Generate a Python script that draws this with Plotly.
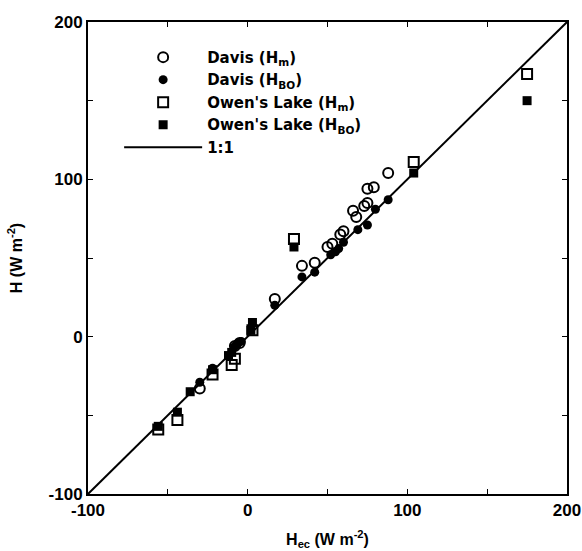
import plotly.graph_objects as go

# Davis (Hm) - open circles
davis_hm_x = [-30, -8, -5, 17, 34, 42, 50, 53, 58, 60, 66, 68, 73, 75, 75, 79, 88]
davis_hm_y = [-33, -6, -4, 24, 45, 47, 57, 59, 65, 67, 80, 76, 83, 85, 94, 95, 104]
# Davis (HBO) - filled circles
davis_bo_x = [-30, -22, -8, -6, -4, 17, 34, 42, 52, 55, 57, 60, 69, 75, 80, 88]
davis_bo_y = [-29, -20, -6, -4, -3, 20, 38, 41, 52, 54, 56, 60, 68, 71, 81, 87]
# Owen's Lake (Hm) - open squares
owens_hm_x = [-56, -44, -22, -10, -8, 3, 29, 104, 175]
owens_hm_y = [-59, -53, -24, -18, -14, 4, 62, 111, 167]
# Owen's Lake (HBO) - filled squares
owens_bo_x = [-56, -44, -36, -22, -12, -10, 3, 2, 29, 104, 175]
owens_bo_y = [-57, -48, -35, -21, -12, -10, 9, 4, 57, 104, 150]
# 1:1 line
line_x = [-100, 200]
line_y = [-100, 200]

tick_vals = [-100, -50, 0, 50, 100, 150, 200]
tick_text = ["-100", "", "0", "", "100", "", "200"]

FONT = "Liberation Sans"
LFONT = "DejaVu Sans"

fig = go.Figure()
fig.add_trace(go.Scatter(x=davis_hm_x, y=davis_hm_y, mode="markers",
                         name="<b>Davis (H<sub>m</sub>)</b>",
                         marker=dict(symbol="circle-open", size=10, color="black",
                                     line=dict(width=2, color="black"))))
fig.add_trace(go.Scatter(x=davis_bo_x, y=davis_bo_y, mode="markers",
                         name="<b>Davis (H<sub>BO</sub>)</b>",
                         marker=dict(symbol="circle", size=9, color="black")))
fig.add_trace(go.Scatter(x=owens_hm_x, y=owens_hm_y, mode="markers",
                         name="<b>Owen's Lake (H<sub>m</sub>)</b>",
                         marker=dict(symbol="square-open", size=10, color="black",
                                     line=dict(width=2, color="black"))))
fig.add_trace(go.Scatter(x=owens_bo_x, y=owens_bo_y, mode="markers",
                         name="<b>Owen's Lake (H<sub>BO</sub>)</b>",
                         marker=dict(symbol="square", size=9, color="black")))
fig.add_trace(go.Scatter(x=line_x, y=line_y, mode="lines",
                         name="<b>1:1</b>",
                         line=dict(color="black", width=2)))

axis_common = dict(
    tickvals=tick_vals, ticktext=tick_text,
    ticks="inside", ticklen=5, tickwidth=1, tickcolor="black",
    showline=True, linecolor="black", linewidth=2, mirror="ticks",
    showgrid=False, zeroline=False, automargin=False,
    tickfont=dict(family=FONT, size=17, color="black", weight="bold"),
)

fig.update_layout(
    width=582, height=551,
    margin=dict(l=88, r=15, t=22, b=57),
    paper_bgcolor="white", plot_bgcolor="white",
    font=dict(family=FONT, color="black"),
    showlegend=True,
    legend=dict(x=0.065, y=0.96, xanchor="left", yanchor="top",
                bgcolor="rgba(0,0,0,0)", borderwidth=0,
                font=dict(family=LFONT, size=15, color="black"),
                itemwidth=78, tracegroupgap=0),
    xaxis=dict(range=[-100, 200],
               title=dict(text="<b>H<sub>ec</sub> (W m<sup>-2</sup>)</b>",
                          font=dict(family=FONT, size=16, color="black"), standoff=14),
               **axis_common),
    yaxis=dict(range=[-100, 200],
               title=dict(text="<b>H (W m<sup>-2</sup>)</b>",
                          font=dict(family=FONT, size=16, color="black"), standoff=22),
               **axis_common),
)

fig.write_html("out.html", config={"displayModeBar": False},
               post_script="document.body.style.margin='0px';")
